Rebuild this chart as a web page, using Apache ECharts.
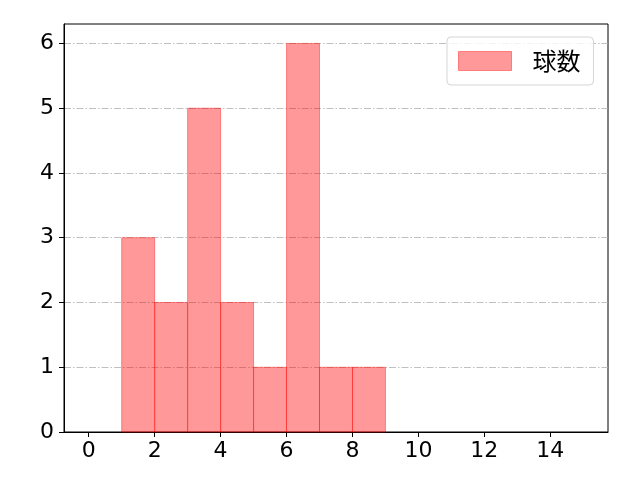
<!DOCTYPE html>
<html>
<head>
<meta charset="utf-8">
<script src="https://cdn.jsdelivr.net/npm/echarts@6/dist/echarts.min.js"></script>
<style>
  html, body { margin: 0; padding: 0; background: #fff; }
  #chart { width: 640px; height: 480px; }
</style>
</head>
<body>
<div id="chart"></div>
<script>
// ヒストグラム - 球数
const binStarts = [1, 2, 3, 4, 5, 6, 7, 8]
const binEnds = [2, 3, 4, 5, 6, 7, 8, 9]
const counts = [3, 2, 5, 2, 1, 6, 1, 1]
const xTicks = [0, 2, 4, 6, 8, 10, 12, 14]
const yTicks = [0, 1, 2, 3, 4, 5, 6]
const seriesName = '球数'

const chart = echarts.init(document.getElementById('chart'))

const data = counts.map((c, i) => [binStarts[i], binEnds[i], c])

const option = {
    backgroundColor: '#fff',
    animation: false,
    grid: {
        left: 64,
        right: 32,
        top: 24,
        bottom: 48,
        show: true,
        borderColor: '#000',
        borderWidth: 1
    },
    legend: {
        data: [{ name: seriesName, icon: 'rect' }],
        left: 447,
        top: 37,
        padding: [12, 13, 12, 11],
        itemWidth: 53,
        itemHeight: 19,
        backgroundColor: 'rgba(255,255,255,0.8)',
        borderColor: '#d5d5d5',
        borderWidth: 1,
        borderRadius: 4,
        itemStyle: { borderColor: 'rgba(255,0,0,0.4)', borderWidth: 1 },
        textStyle: {
            fontFamily: 'Noto Sans CJK JP',
            fontSize: 24,
            color: '#000',
            padding: [0, 0, 0, 16]
        }
    },
    xAxis: {
        type: 'value',
        min: -0.75,
        max: 15.75,
        axisLine: { onZero: false, lineStyle: { color: '#000', width: 1 } },
        axisTick: { length: 5, customValues: xTicks, lineStyle: { color: '#000' } },
        axisLabel: {
            customValues: xTicks,
            margin: 8,
            color: '#000',
            fontFamily: 'DejaVu Sans',
            fontSize: 22
        },
        splitLine: { show: false }
    },
    yAxis: {
        type: 'value',
        min: 0,
        max: 6.3,
        interval: 1,
        axisLine: { show: true, onZero: false, lineStyle: { color: '#000', width: 1 } },
        axisTick: { show: true, length: 5, customValues: yTicks, lineStyle: { color: '#000' } },
        axisLabel: {
            customValues: yTicks,
            margin: 10,
            color: '#000',
            fontFamily: 'DejaVu Sans',
            fontSize: 22
        },
        splitLine: {
            show: true,
            lineStyle: { color: '#b0b0b0', width: 0.8, type: [7, 2, 1.5, 2] }
        }
    },
    series: [{
        name: seriesName,
        type: 'custom',
        itemStyle: { color: 'rgba(255,0,0,0.4)' },
        renderItem: function(params, api) {
            const p0 = api.coord([api.value(0), 0])
            const p1 = api.coord([api.value(1), api.value(2)])
            return {
                type: 'rect',
                shape: { x: p0[0], y: p1[1], width: p1[0] - p0[0], height: p0[1] - p1[1] },
                style: {
                    fill: 'rgba(255,0,0,0.4)',
                    stroke: 'rgba(255,0,0,0.4)',
                    lineWidth: 1
                }
            }
        },
        encode: { x: [0, 1], y: 2 },
        data: data
    }]
}

chart.setOption(option)
</script>
</body>
</html>
